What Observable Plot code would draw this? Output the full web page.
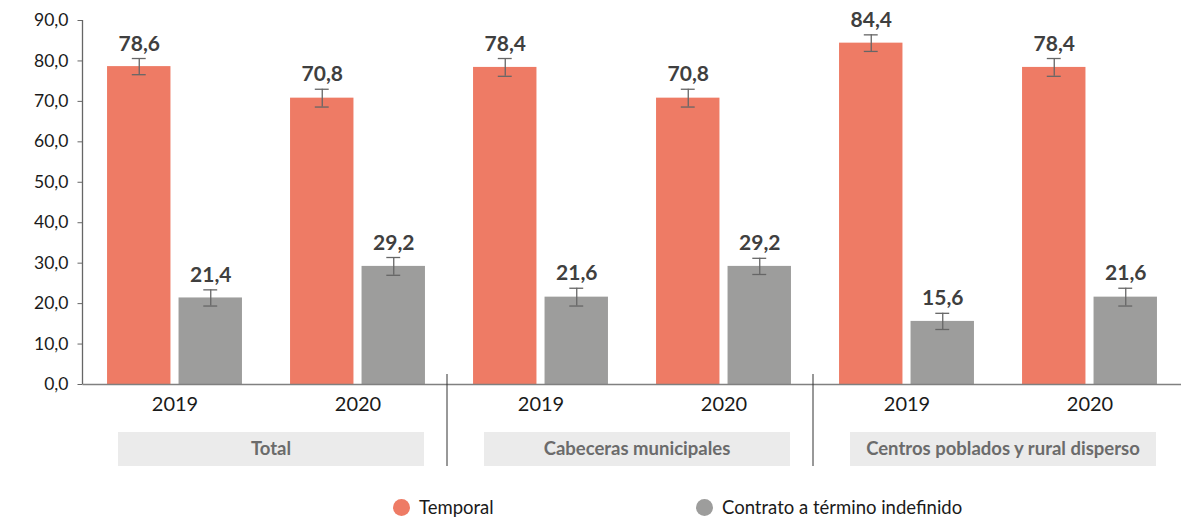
<!DOCTYPE html>
<html><head><meta charset="utf-8">
<script src="https://cdn.jsdelivr.net/npm/d3@7"></script>
<script src="https://cdn.jsdelivr.net/npm/@observablehq/plot@0.6"></script>
<style>
body{margin:0;background:#fff;font-family:Lato,"Noto Sans",sans-serif;}
#wrap{position:relative;width:1186px;height:521px;}
.leg{position:absolute;top:495px;height:24px;display:flex;align-items:center;font-size:18.5px;color:#1a1a1a;}
.dot{width:17px;height:17px;border-radius:50%;margin-right:9px;}
</style></head>
<body><div id="wrap"><div id="chart"></div>
<div class="leg" style="left:393px"><span class="dot" style="background:#EE7B65"></span>Temporal</div>
<div class="leg" style="left:696px"><span class="dot" style="background:#9D9D9C"></span>Contrato a término indefinido</div>
</div>
<script>
const groups = ["Total", "Cabeceras municipales", "Centros poblados y rural disperso"];
const years = ["2019", "2020"];
const seriesNames = ["Temporal", "Contrato a término indefinido"];
// order: Total 2019, Total 2020, Cabeceras 2019, Cabeceras 2020, Centros 2019, Centros 2020
const temporal = [78.6, 70.8, 78.4, 70.8, 84.4, 78.4];
const indefinido = [21.4, 29.2, 21.6, 29.2, 15.6, 21.6];
const temporalErr = [2.0, 2.2, 2.2, 2.2, 2.05, 2.2];
const indefinidoErr = [2.0, 2.2, 2.2, 2.0, 2.0, 2.2];
const yTicks = [0, 10, 20, 30, 40, 50, 60, 70, 80, 90];

const slots = [];
groups.forEach(g => years.forEach(y => slots.push(g + "|" + y)));
const tRows = slots.map((s, i) => ({slot: s, series: seriesNames[0], value: temporal[i], err: temporalErr[i]}));
const iRows = slots.map((s, i) => ({slot: s, series: seriesNames[1], value: indefinido[i], err: indefinidoErr[i]}));

const W = 1186, H = 480, ML = 82.5, MR = 5, MT = 20, MB = 96;
const step = (W - ML - MR) / slots.length;
const bw = 63.5, gap = 8;
const outer = (step - 2 * bw - gap) / 2;
const off = bw / 2 + gap / 2;
const capHalf = 7;
const fmt = d => d.toFixed(1).replace(".", ",");
const colors = {t: "#EE7B65", i: "#9D9D9C"};

function seriesMarks(rows, fill, insetL, insetR, dx) {
  const cL = insetL + bw / 2;
  return [
    Plot.barY(rows, {x: "slot", y: "value", fill, insetLeft: insetL, insetRight: insetR}),
    Plot.ruleX(rows, {x: "slot", y1: d => d.value - d.err, y2: d => d.value + d.err, dx, stroke: "#666", strokeWidth: 1.3}),
    Plot.tickY(rows, {x: "slot", y: d => d.value - d.err, insetLeft: cL - capHalf, insetRight: step - cL - capHalf, stroke: "#666", strokeWidth: 1.3}),
    Plot.tickY(rows, {x: "slot", y: d => d.value + d.err, insetLeft: cL - capHalf, insetRight: step - cL - capHalf, stroke: "#666", strokeWidth: 1.3}),
    Plot.text(rows, {x: "slot", y: d => d.value + d.err, text: d => fmt(d.value), dx, dy: -8, lineAnchor: "bottom", fontWeight: "bold", fontSize: 21, fill: "#3f3f3f"})
  ];
}

const plot = Plot.plot({
  width: W, height: H, marginLeft: ML, marginRight: MR, marginTop: MT, marginBottom: MB,
  style: {fontFamily: "Lato, 'Noto Sans', sans-serif", background: "white", color: "#1a1a1a"},
  x: {domain: slots, padding: 0},
  y: {domain: [0, 90]},
  marks: [
    Plot.axisY({ticks: yTicks, tickFormat: fmt, tickSize: 5, tickPadding: 9.5, fontSize: 17.5, stroke: "#666", label: null}),
    Plot.axisX({tickFormat: s => s.split("|")[1], tickSize: 0, tickPadding: 12, fontSize: 20, label: null}),
    ...seriesMarks(tRows, colors.t, outer, step - outer - bw, -off),
    ...seriesMarks(iRows, colors.i, outer + bw + gap, outer, off),
    Plot.ruleY([0], {stroke: "#808080", strokeWidth: 1.5})
  ]
});

const xs = plot.scale("x"), ys = plot.scale("y");
const svg = d3.select(plot);
const y0 = ys.apply(0);
svg.append("line").attr("x1", ML).attr("x2", ML).attr("y1", ys.apply(90)).attr("y2", y0)
  .attr("stroke", "#666").attr("stroke-width", 1.3);
groups.forEach((g, i) => {
  const a = xs.apply(g + "|" + years[0]);
  const b = xs.apply(g + "|" + years[1]) + xs.bandwidth;
  const c = (a + b) / 2 + 5;
  svg.append("rect").attr("x", c - 153).attr("y", y0 + 48).attr("width", 306).attr("height", 34).attr("fill", "#EBEBEB");
  svg.append("text").attr("x", c).attr("y", y0 + 65).attr("dy", "0.35em").attr("text-anchor", "middle")
    .attr("font-weight", "bold").attr("font-size", 18.5).attr("fill", "#6b6b6b").text(g);
  if (i > 0) {
    svg.append("line").attr("x1", a - 2).attr("x2", a - 2).attr("y1", y0 - 10).attr("y2", y0 + 82)
      .attr("stroke", "#333").attr("stroke-width", 1);
  }
});
document.getElementById("chart").appendChild(plot);
</script>
</body></html>
